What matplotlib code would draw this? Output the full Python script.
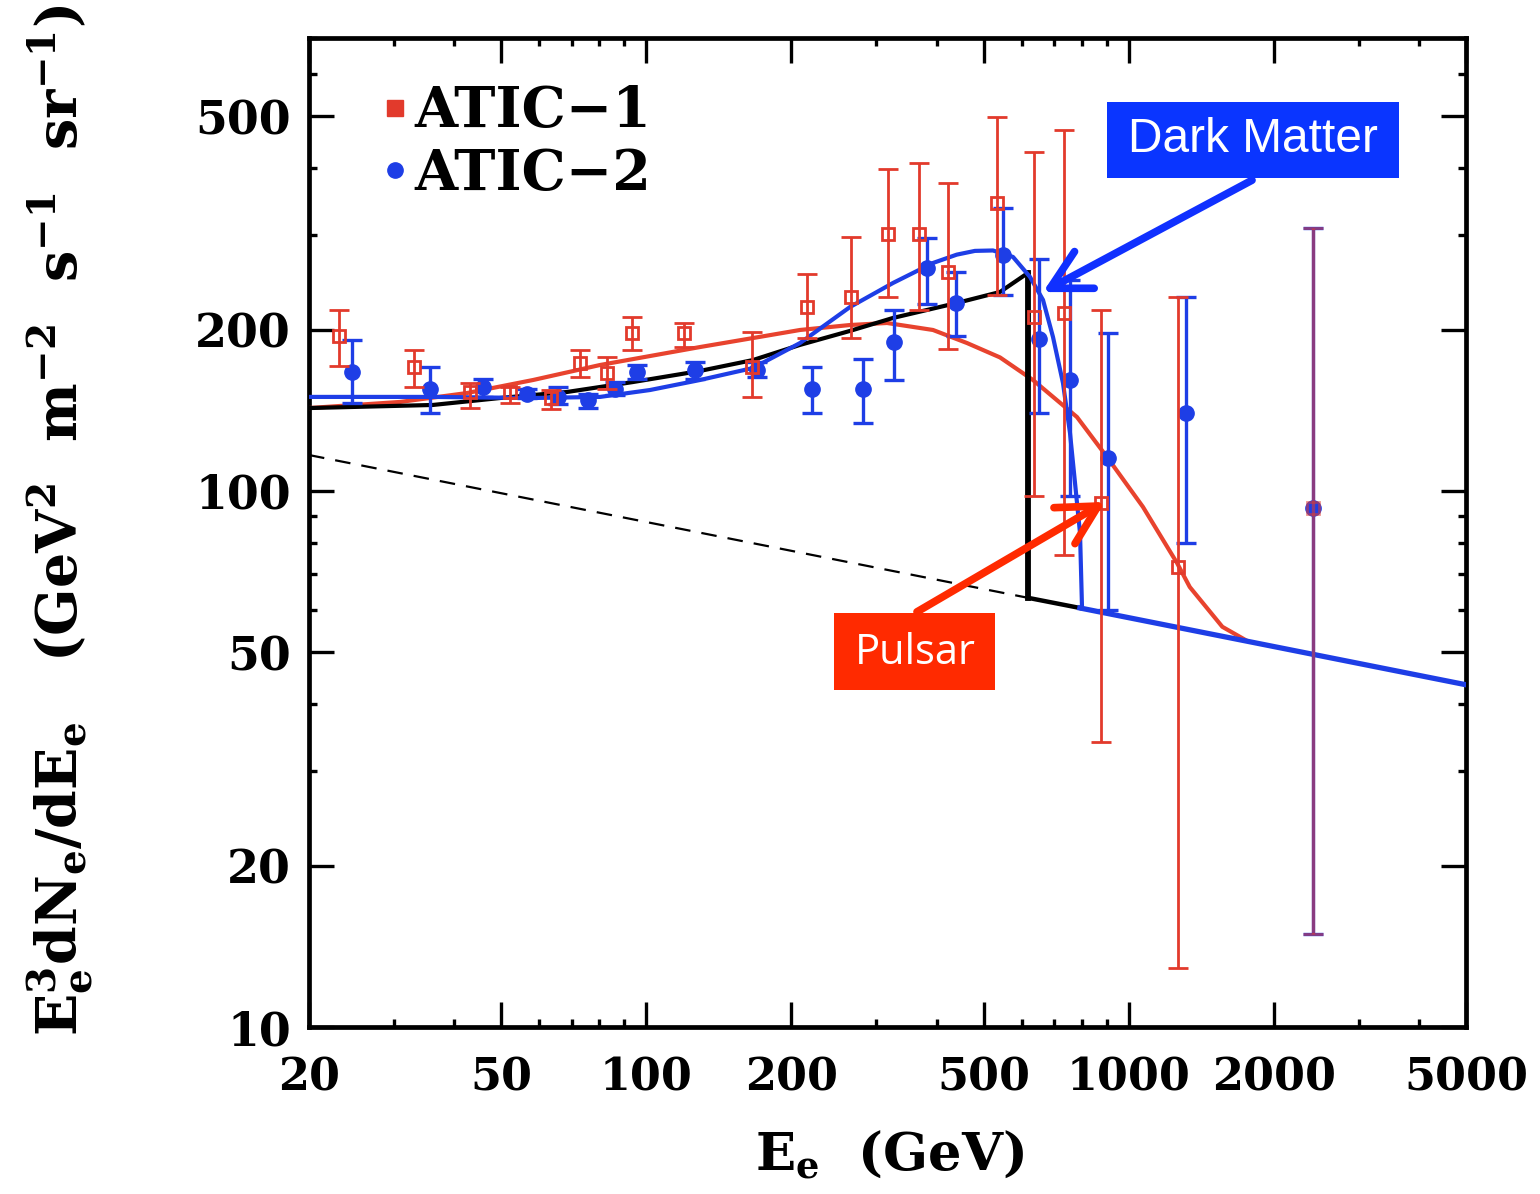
import matplotlib
matplotlib.use("Agg")
import matplotlib.pyplot as plt
from matplotlib.ticker import FixedLocator, NullFormatter, FixedFormatter
from matplotlib.lines import Line2D
from matplotlib.patches import Rectangle

plt.rcParams['mathtext.fontset'] = 'custom'
plt.rcParams['mathtext.rm'] = 'DejaVu Serif:bold'
plt.rcParams['mathtext.it'] = 'DejaVu Serif:bold'
plt.rcParams['mathtext.bf'] = 'DejaVu Serif:bold'

# ---------------- data ----------------
atic1_E = [23.1, 33.0, 43.1, 52.2, 63.5, 72.9, 82.9, 93.4, 119.7, 166, 215, 266,
           317, 368, 422, 533, 637, 734, 876, 1265, 2409]
atic1_F = [195, 170, 153, 153, 149, 173, 166, 197, 197, 170, 220, 230,
           302, 302, 256, 345, 211, 215, 95, 72, 93]
atic1_hi = [218, 183, 159, 156, 154, 183, 178, 211, 206, 198, 254, 298,
            399, 409, 376, 499, 429, 472, 218, 230, 310]
atic1_lo = [171, 156, 143, 146, 142, 163, 155, 183, 186, 150, 193, 193,
            230, 218, 184, 232, 98, 76, 34, 12.9, 14.9]

atic2_E = [24.6, 35.6, 45.9, 56.6, 65.6, 75.7, 86.1, 95.7, 126, 170, 221, 281,
           326, 382, 438, 549, 652, 755, 906, 1314, 2409]
atic2_F = [167, 155, 156, 152, 150, 148, 155, 167, 168, 168, 155, 155,
           190, 261, 224, 276, 192, 161, 115, 140, 93]
atic2_hi = [191, 170, 162, 155, 156, 152, 160, 172, 174, 174, 170, 176,
            218, 297, 256, 337, 271, 248, 197, 230, 310]
atic2_lo = [146, 140, 150, 149, 145, 143, 151, 162, 162, 163, 140, 134,
            161, 223, 195, 232, 140, 98, 60, 80, 14.9]

# power-law background (dashed part and solid tail)
bg_E = [20, 618]
bg_F = [116.7, 63.2]
tail_black_E = [618, 792]
tail_black_F = [63.2, 60.5]
tail_blue_E = [792, 5000]
tail_blue_F = [60.5, 43.5]

# black model (sharp cut-off)
black_E = [20, 36.1, 49.8, 68.5, 93.9, 129.3, 166.4, 208.3, 264.4, 324.7, 440.6, 540.9, 618, 618]
black_F = [142.8, 144.7, 149.1, 153.0, 159.7, 167.5, 175.5, 187.3, 198.9, 210.3, 224.3, 235.1, 255.1, 63.2]

# dark matter model (blue)
dm_E = [20, 36.1, 58.3, 80.2, 101.8, 129.3, 166.4, 208.3, 264.4, 324.7, 392.9, 440,
        480, 523.1, 575.6, 624.2, 664.2, 696.6, 730.6, 755.5, 773.8, 792.5, 800]
dm_F = [149.8, 149.8, 149.1, 149.8, 154.3, 161.1, 169.6, 188.8, 220.4, 244.4, 266.3, 276,
        280.5, 281.0, 273.3, 250.8, 227.2, 193.8, 159.0, 128.3, 103.5, 83.5, 60.8]

# pulsar model (red)
psr_E = [20, 30.9, 42.5, 58.3, 80.2, 129.3, 166.4, 208.3, 264.4, 315.5, 392.9, 462.2,
         540.9, 633, 781, 901.5, 1070, 1259, 1338, 1563, 1747]
psr_F = [142.8, 146.6, 152.3, 161.1, 171.8, 185.6, 192.9, 199.7, 204.0, 205.8, 199.7, 188.8,
         177.5, 161.1, 137.4, 115.7, 93.4, 73.4, 66.2, 55.8, 52.7]

x_ticks = [20, 50, 100, 200, 500, 1000, 2000, 5000]
x_minor = [30, 40, 60, 70, 80, 90, 300, 400, 600, 700, 800, 900, 3000, 4000]
y_ticks = [10, 20, 50, 100, 200, 500]
y_minor = [30, 40, 60, 70, 80, 90, 300, 400, 600, 700]

RED = '#e23a2c'
BLUE = '#1e3ee6'
SERIF = 'DejaVu Serif'

fig = plt.figure(figsize=(15.4, 11.94), dpi=100)
ax = fig.add_axes([309/1540, 1-1027/1194, (1466-309)/1540, (1027-38)/1194])
ax.set_xscale('log')
ax.set_yscale('log')
ax.set_xlim(20, 5000)
ax.set_ylim(10, 700)

# model curves
ax.plot(bg_E, bg_F, color='black', lw=1.6, ls=(0, (7, 5)), zorder=2)
ax.plot(psr_E, psr_F, color='#e8432e', lw=3.0, zorder=3)
ax.plot(black_E[:-1], black_F[:-1], color='black', lw=3.0, zorder=3)
ax.plot(black_E[-2:], black_F[-2:], color='black', lw=4.2, zorder=3)
ax.plot(tail_black_E, tail_black_F, color='black', lw=3.2, zorder=3)
ax.plot(dm_E, dm_F, color=BLUE, lw=3.0, zorder=4)
ax.plot(tail_blue_E, tail_blue_F, color=BLUE, lw=3.8, zorder=4)

# data
def err(F, hi, lo):
    return [[f - l for f, l in zip(F, lo)], [h - f for f, h in zip(F, hi)]]

ax.errorbar(atic2_E, atic2_F, yerr=err(atic2_F, atic2_hi, atic2_lo), fmt='o', color=BLUE,
            ms=11, elinewidth=2.4, capsize=7.5, capthick=2.4, zorder=5)
n = len(atic1_E) - 1
ax.errorbar(atic1_E[:n], atic1_F[:n], yerr=err(atic1_F[:n], atic1_hi[:n], atic1_lo[:n]),
            fmt='s', color=RED, mfc='none', mec=RED, mew=2.0, ms=9, elinewidth=2.0,
            capsize=7.5, capthick=2.2, zorder=6)
ax.errorbar(atic1_E[n:], atic1_F[n:], yerr=err(atic1_F[n:], atic1_hi[n:], atic1_lo[n:]),
            fmt='s', color=RED, mfc='none', mec=RED, mew=2.0, ms=9, elinewidth=2.4,
            capsize=7.5, capthick=2.4, alpha=0.55, zorder=6)

# axes styling
for s in ax.spines.values():
    s.set_linewidth(3.4)
ax.xaxis.set_major_locator(FixedLocator(x_ticks))
ax.xaxis.set_major_formatter(FixedFormatter([str(v) for v in x_ticks]))
ax.xaxis.set_minor_locator(FixedLocator(x_minor))
ax.xaxis.set_minor_formatter(NullFormatter())
ax.yaxis.set_major_locator(FixedLocator(y_ticks))
ax.yaxis.set_major_formatter(FixedFormatter([str(v) for v in y_ticks]))
ax.yaxis.set_minor_locator(FixedLocator(y_minor))
ax.yaxis.set_minor_formatter(NullFormatter())
ax.tick_params(which='both', direction='in', top=True, right=True, width=2.4)
ax.tick_params(which='major', length=18)
ax.tick_params(which='minor', length=6)
ax.tick_params(axis='x', which='major', pad=21)
ax.tick_params(axis='y', which='major', pad=13)
for lab in ax.get_xticklabels():
    lab.set_fontfamily(SERIF)
    lab.set_fontweight('bold')
    lab.set_fontsize(32)
for lab in ax.get_yticklabels():
    lab.set_fontfamily(SERIF)
    lab.set_fontweight('bold')
    lab.set_fontsize(33)

# axis labels
fig.text(890/1540, 1-1155/1194, r'$\mathrm{E_e\ \ (GeV)}$', fontsize=38,
         ha='center', va='center')
fig.text(60/1540, 1-520/1194,
         r'$\mathrm{E_e^3dN_e/dE_e\ \ \ (GeV^2\ \ m^{-2}\ \ s^{-1}\ \ sr^{-1})}$',
         fontsize=40, rotation=90, ha='center', va='center')

# legend
handles = [Line2D([], [], marker='s', color=RED, ls='none', ms=11),
           Line2D([], [], marker='o', color=BLUE, ls='none', ms=11)]
ax.legend(handles, ['ATIC\u22121', 'ATIC\u22122'], loc='upper left',
          bbox_to_anchor=(0.067, 0.953), frameon=False, handlelength=0.3,
          handletextpad=0.2, borderpad=0, borderaxespad=0, labelspacing=0.13,
          prop={'family': SERIF, 'weight': 'bold', 'size': 40})

# annotation boxes
fig.patches.append(Rectangle((1107/1540, 1-178/1194), 292/1540, 76/1194,
                             transform=fig.transFigure, facecolor='#0a35ff',
                             edgecolor='none', zorder=10))
fig.text(1253/1540, 1-140/1194, 'Dark Matter', color='white', fontsize=34.5,
         family='Liberation Sans', ha='center', va='center', zorder=11)
fig.patches.append(Rectangle((834/1540, 1-690/1194), 161/1540, 77/1194,
                             transform=fig.transFigure, facecolor='#ff2a00',
                             edgecolor='none', zorder=10))
fig.text(915/1540, 1-653/1194, 'Pulsar', color='white', fontsize=30,
         family='Open Sans', ha='center', va='center', zorder=11)

ax.annotate('', xy=(664, 235), xytext=(1801, 380),
            arrowprops=dict(arrowstyle='->, head_length=1.4, head_width=0.75',
                            color='#1030ff', lw=5.5, mutation_scale=20,
                            shrinkA=0, shrinkB=0), zorder=9)
ax.annotate('', xy=(893, 95.4), xytext=(364, 59.5),
            arrowprops=dict(arrowstyle='->, head_length=1.4, head_width=0.75',
                            color='#ff2a00', lw=5.5, mutation_scale=20,
                            shrinkA=0, shrinkB=0), zorder=9)

fig.savefig('out.png', dpi=100)
